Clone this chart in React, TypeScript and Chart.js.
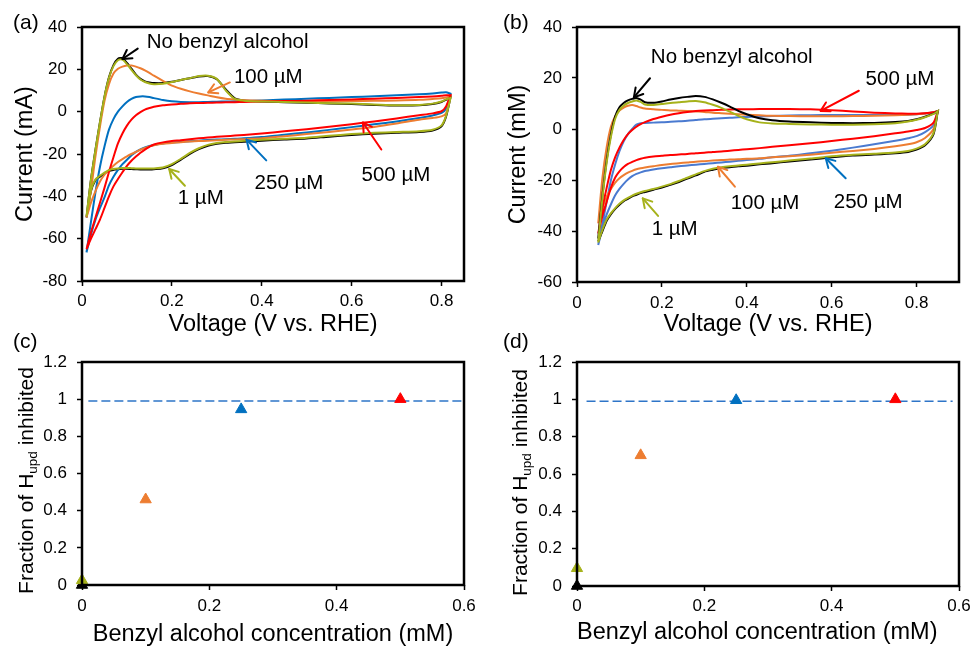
import React, { useEffect, useRef } from "react";
import { Chart, registerables } from "chart.js";
Chart.register(...registerables);

const FONT = "'Liberation Sans', Arial, Helvetica, sans-serif";

const C_BLACK = "#000000";
const C_OLIVE = "#a6b21b";
const C_ORANGE = "#ed7d31";
const C_BLUE_A = "#0070c0";
const C_BLUE_B = "#4a7ad0";
const C_RED = "#ff0000";

// ---------- Panel (a): CV, current (mA) vs voltage ----------
const VOLT_A = [0.01, 0.02, 0.03, 0.04, 0.05, 0.06, 0.07, 0.08, 0.09, 0.10, 0.11, 0.12, 0.13, 0.14, 0.15, 0.16, 0.18, 0.20, 0.22, 0.24, 0.26, 0.28, 0.30, 0.32, 0.34, 0.36, 0.40, 0.45, 0.50, 0.55, 0.60, 0.65, 0.70, 0.75, 0.78, 0.80, 0.81, 0.82];
const A_NONE_FWD = [-50, -32, -18, -5, 7, 16.2, 22, 25, 25.3, 23, 20.3, 17.5, 15.5, 14.3, 13.8, 13.5, 13.5, 14.1, 15, 15.8, 16.6, 16.8, 15.3, 10.5, 6.3, 5.3, 4.8, 4.5, 4.2, 3.9, 3.6, 3.2, 2.9, 3.0, 3.6, 4.6, 5.6, 6.8];
const A_NONE_REV = [-50, -37.5, -32.4, -30.7, -29.2, -28, -27.5, -27.2, -27, -27, -27.1, -27.2, -27.3, -27.3, -27.3, -27.2, -26.8, -25.2, -22.7, -19.9, -17.7, -16.1, -15.2, -14.7, -14.5, -14.2, -13.7, -13.2, -12.7, -11.8, -11, -10.4, -10.0, -9.6, -8.9, -6.9, -2.4, 6.8];
const A_1UM_FWD = [-49.5, -32, -18, -5, 7, 16, 21.5, 24.3, 24.6, 22.5, 19.8, 17.2, 15.2, 14, 13.3, 13, 13.2, 14, 15, 15.8, 16.8, 17, 15.5, 10, 6, 5.2, 4.8, 4.6, 4.3, 4.0, 3.8, 3.4, 3.0, 3.2, 3.8, 4.8, 5.8, 6.5];
const A_1UM_REV = [-49.5, -37, -32, -30.3, -28.8, -27.6, -27.1, -26.8, -26.6, -26.6, -26.7, -26.8, -26.9, -26.9, -26.9, -26.8, -26.4, -24.8, -22.3, -19.5, -17.3, -15.7, -14.8, -14.3, -14.1, -13.8, -13.3, -12.8, -12.3, -11.4, -10.6, -10.0, -9.6, -9.2, -8.5, -6.5, -2, 6.5];
const A_100_FWD = [-50, -37, -21, -7, 5, 13, 18, 20.3, 21.3, 21.8, 21.8, 21.3, 20.5, 19.5, 18.3, 17, 14.6, 12.3, 10.8, 9.6, 8.6, 7.7, 6.8, 6.1, 5.7, 5.4, 5.1, 4.9, 4.9, 4.9, 5.0, 5.1, 5.3, 5.6, 6.0, 6.3, 6.7, 7.2];
const A_100_REV = [-50, -43, -37.5, -33, -29.8, -27.5, -25.5, -23.8, -22.4, -21.1, -20, -19, -18, -17.1, -16.4, -15.9, -15.2, -14.8, -14.4, -14.1, -13.9, -13.7, -13.5, -13.3, -13.1, -13.0, -12.6, -11.6, -10.6, -9.6, -8.4, -7.2, -5.6, -3.8, -3.0, -2.2, -0.8, 7.2];
const A_250_FWD = [-66.5, -52, -38, -26, -16.5, -8.5, -3.5, 0, 2.5, 4.6, 6, 6.9, 7.2, 7.2, 6.9, 6.4, 5.5, 4.9, 4.6, 4.5, 4.5, 4.6, 4.7, 4.8, 4.9, 5.0, 5.3, 5.7, 6.1, 6.5, 6.9, 7.3, 7.7, 8.2, 8.6, 9.0, 9.2, 8.5];
const A_250_REV = [-66.5, -58, -51, -45.5, -40.5, -34.8, -30.8, -27.5, -24.8, -22.7, -20.6, -19, -17.8, -16.9, -16.2, -15.7, -15, -14.6, -14.3, -14, -13.7, -13.4, -13.2, -13.0, -12.8, -12.6, -12, -10.9, -9.8, -8.6, -7.3, -6, -4.6, -3.0, -1.8, -0.6, 1.5, 8.5];
const A_500_FWD = [-65, -57, -50, -43, -36, -28.5, -21.5, -15, -10.3, -6.6, -3.8, -1.7, -0.2, 1, 1.7, 2.3, 3.0, 3.4, 3.7, 4.0, 4.1, 4.2, 4.3, 4.4, 4.5, 4.6, 4.8, 5.0, 5.2, 5.5, 5.8, 6.1, 6.5, 6.9, 7.2, 7.5, 7.7, 7.8];
const A_500_REV = [-65, -60, -55.5, -51, -45.5, -40, -35.3, -31.8, -28.6, -25.6, -23.2, -21.2, -19.4, -17.9, -16.6, -15.5, -14.5, -13.9, -13.5, -13.0, -12.6, -12.2, -11.9, -11.6, -11.3, -11.0, -10.3, -9.3, -8.3, -7.1, -5.9, -4.6, -3.2, -1.7, -0.8, 0.2, 2.5, 7.8];

// ---------- Panel (b): CV, current (mM) vs voltage ----------
const VOLT_B = [0.05, 0.06, 0.07, 0.08, 0.09, 0.10, 0.11, 0.12, 0.13, 0.14, 0.15, 0.16, 0.18, 0.20, 0.22, 0.24, 0.26, 0.28, 0.30, 0.32, 0.34, 0.36, 0.38, 0.40, 0.43, 0.46, 0.50, 0.55, 0.60, 0.65, 0.70, 0.75, 0.78, 0.80, 0.82, 0.84, 0.85];
const B_NONE_FWD = [-43, -26, -12, -2, 5, 8.5, 10.2, 11.2, 11.8, 12.2, 11.5, 10.5, 10.3, 10.8, 11.6, 12.2, 12.6, 12.9, 12.6, 11.6, 10.3, 8.8, 7.1, 5.8, 4.2, 3.4, 2.9, 2.6, 2.4, 2.3, 2.4, 2.7, 3.1, 3.8, 4.8, 6.0, 7.0];
const B_NONE_REV = [-44, -40, -36, -33.4, -31.3, -29.7, -28.3, -27.4, -26.4, -25.8, -25.1, -24.7, -23.8, -23.0, -21.9, -20.8, -19.4, -18.2, -16.8, -16.0, -15.3, -15.0, -14.6, -14.4, -13.8, -13.4, -12.7, -12.0, -11.1, -10.4, -10.0, -9.5, -9.0, -8.1, -6.4, -2.0, 7.0];
const B_1UM_FWD = [-44.5, -27, -13, -3, 4, 7.5, 9.2, 10.2, 10.8, 11.2, 10.6, 9.6, 9.4, 9.8, 10.2, 10.5, 10.8, 11.0, 10.5, 9.5, 8.3, 6.8, 5.2, 3.8, 2.6, 2.2, 2.0, 1.8, 1.7, 1.7, 1.9, 2.3, 2.9, 3.6, 4.6, 5.9, 7.0];
const B_1UM_REV = [-44.5, -39.5, -35.5, -33, -31, -29.3, -28, -27, -26.1, -25.4, -24.8, -24.3, -23.5, -22.6, -21.6, -20.4, -19.1, -17.8, -16.5, -15.6, -15, -14.6, -14.3, -14, -13.5, -13.0, -12.4, -11.6, -10.7, -10.1, -9.7, -9.2, -8.6, -7.7, -6, -1.5, 7.0];
const B_100_FWD = [-37, -19, -7, 1, 5, 7.2, 8.4, 9.1, 9.4, 9.0, 8.4, 8.0, 7.7, 7.5, 7.3, 7.2, 7.1, 6.9, 6.7, 6.4, 6.2, 6.0, 5.8, 5.6, 5.4, 5.2, 5.1, 5.0, 5.0, 5.1, 5.2, 5.4, 5.6, 5.8, 6.1, 6.6, 7.0];
const B_100_REV = [-37, -31, -26.5, -23.5, -21, -19.3, -18.1, -17.1, -16.4, -15.8, -15.4, -15.1, -14.6, -14.1, -13.7, -13.4, -13.1, -12.8, -12.6, -12.4, -12.2, -12, -11.9, -11.7, -11.5, -11.1, -10.7, -10.1, -9.3, -8.6, -7.8, -6.8, -6.0, -5.2, -3.5, 0, 7.0];
const B_250_FWD = [-45.5, -37, -28.5, -20, -13.8, -8.7, -4.8, -2, 0, 1.7, 2.3, 2.4, 2.5, 2.6, 2.8, 3.0, 3.2, 3.5, 3.8, 4.0, 4.2, 4.4, 4.6, 4.7, 4.9, 5.1, 5.3, 5.4, 5.5, 5.5, 5.5, 5.5, 5.6, 5.8, 6.1, 6.6, 7.0];
const B_250_REV = [-45.5, -39, -33.5, -29.5, -26, -23.5, -21.5, -19.8, -18.5, -17.6, -17, -16.5, -15.9, -15.4, -15, -14.6, -14.3, -14, -13.7, -13.4, -13.1, -12.8, -12.5, -12.2, -11.7, -11.1, -10.5, -9.5, -8.5, -7.3, -6.0, -4.6, -3.6, -2.8, -1.2, 1.5, 7.0];
const B_500_FWD = [-41, -31, -23, -16, -11, -7.3, -4.3, -2, -0.4, 0.9, 1.9, 2.7, 3.9, 4.8, 5.6, 6.2, 6.7, 7.1, 7.3, 7.4, 7.5, 7.6, 7.7, 7.7, 7.8, 7.8, 7.8, 7.7, 7.4, 6.9, 6.4, 6.1, 6.0, 6.0, 6.2, 6.6, 7.0];
const B_500_REV = [-41, -34, -28.5, -23, -19, -16.6, -14.9, -13.7, -12.9, -12.2, -11.7, -11.3, -10.8, -10.5, -10.2, -10.0, -9.8, -9.5, -9.3, -9.0, -8.8, -8.5, -8.2, -7.9, -7.5, -7.0, -6.4, -5.6, -4.7, -3.8, -2.8, -1.7, -1.0, -0.4, 0.4, 2.5, 7.0];

// ---------- Panels (c), (d): fraction inhibited ----------
const CONC = [0, 0, 0.1, 0.25, 0.5];
const CONC_COLORS = [C_BLACK, C_OLIVE, C_ORANGE, C_BLUE_A, C_RED];
const FRACTION_C = [0, 0.025, 0.46, 0.945, 1.0];
const FRACTION_D = [0, 0.095, 0.70, 0.995, 1.0];
const REF_LINE_C_X = [0.01, 0.6];
const REF_LINE_D_X = [0.015, 0.59];
const REF_LINE_Y = [0.99, 0.99];

// ---------- Axis ticks ----------
const TICKS_VOLT = [0, 0.2, 0.4, 0.6, 0.8];
const TICKS_CUR_A = [-80, -60, -40, -20, 0, 20, 40];
const TICKS_CUR_B = [-60, -40, -20, 0, 20, 40];
const TICKS_CONC = [0, 0.2, 0.4, 0.6];
const TICKS_FRAC = [0, 0.2, 0.4, 0.6, 0.8, 1, 1.2];

type Note = { text: string; color: string; x: number; y: number; from: [number, number]; to: [number, number] };

const NOTES_A: Note[] = [
  { text: "No benzyl alcohol", color: C_BLACK, x: 0.144, y: 32.6, from: [0.124, 29.8], to: [0.09, 24.9] },
  { text: "100 µM", color: C_ORANGE, x: 0.338, y: 16.1, from: [0.329, 13.8], to: [0.281, 9.1] },
  { text: "1 µM", color: C_OLIVE, x: 0.213, y: -41.1, from: [0.229, -35], to: [0.194, -27.1] },
  { text: "250 µM", color: C_BLUE_A, x: 0.384, y: -33.9, from: [0.41, -23], to: [0.366, -13.2] },
  { text: "500 µM", color: C_RED, x: 0.622, y: -30.2, from: [0.666, -17.9], to: [0.625, -5.1] },
];
const NOTES_B: Note[] = [
  { text: "No benzyl alcohol", color: C_BLACK, x: 0.174, y: 28, from: [0.172, 19.9], to: [0.134, 12.4] },
  { text: "500 µM", color: C_RED, x: 0.68, y: 19.5, from: [0.664, 15], to: [0.574, 7.1] },
  { text: "100 µM", color: C_ORANGE, x: 0.362, y: -29.3, from: [0.372, -22.6], to: [0.332, -14.8] },
  { text: "250 µM", color: C_BLUE_A, x: 0.605, y: -28.6, from: [0.633, -19.3], to: [0.586, -11.5] },
  { text: "1 µM", color: C_OLIVE, x: 0.176, y: -39.2, from: [0.191, -34.1], to: [0.155, -27.2] },
];

function loop(v: number[], fwd: number[], rev: number[]) {
  const up = v.map((x, i) => ({ x, y: fwd[i] }));
  const down = v.map((x, i) => ({ x, y: rev[i] })).reverse();
  return [...up, ...down];
}

function cv(label: string, color: string, v: number[], fwd: number[], rev: number[], order: number) {
  return {
    label,
    data: loop(v, fwd, rev),
    showLine: true,
    borderColor: color,
    backgroundColor: color,
    borderWidth: 2,
    pointRadius: 0,
    tension: 0.25,
    fill: false,
    order,
  };
}

function fractionSets(values: number[], lineX: number[]) {
  return [
    {
      label: "fraction",
      data: CONC.map((x, i) => ({ x, y: values[i] })),
      pointStyle: "triangle",
      pointRadius: 6.5,
      pointBorderWidth: 1,
      pointBackgroundColor: CONC_COLORS,
      pointBorderColor: CONC_COLORS,
      showLine: false,
      clip: false,
      order: 0,
    },
    {
      label: "full inhibition",
      data: lineX.map((x, i) => ({ x, y: REF_LINE_Y[i] })),
      showLine: true,
      borderColor: "#2e75c8",
      borderWidth: 1.5,
      borderDash: [9, 4],
      pointRadius: 0,
      order: 1,
    },
  ];
}

type Spec = {
  left: number; top: number; width: number; height: number;
  plot: { left: number; top: number; right: number; bottom: number };
  xMin: number; xMax: number; xTicks: number[]; xTitle: string; xTitlePad: number; xTitleAlign?: string; xLabelPad: number;
  yMin: number; yMax: number; yTicks: number[]; yTitle?: string; yTitlePad?: number;
  datasets: any[];
  label: string; labelPos: [number, number];
  notes?: Note[];
  subTitle?: { x: number; y: number };
};

function drawArrow(ctx: CanvasRenderingContext2D, x1: number, y1: number, x2: number, y2: number, color: string) {
  ctx.strokeStyle = color;
  ctx.lineWidth = 2;
  ctx.lineCap = "round";
  ctx.lineJoin = "round";
  ctx.beginPath();
  ctx.moveTo(x1, y1);
  ctx.lineTo(x2, y2);
  ctx.stroke();
  const ang = Math.atan2(y2 - y1, x2 - x1);
  const L = 10;
  const a = Math.PI / 6;
  ctx.beginPath();
  ctx.moveTo(x2 - L * Math.cos(ang - a), y2 - L * Math.sin(ang - a));
  ctx.lineTo(x2, y2);
  ctx.lineTo(x2 - L * Math.cos(ang + a), y2 - L * Math.sin(ang + a));
  ctx.stroke();
}

function overlay(spec: Spec) {
  return {
    id: "overlay",
    afterDatasetsDraw(chart: any) {
      const { ctx, chartArea: a } = chart;
      ctx.save();
      ctx.strokeStyle = "#000";
      ctx.lineWidth = 2.5;
      ctx.strokeRect(a.left, a.top, a.right - a.left, a.bottom - a.top);
      ctx.restore();
    },
    afterDraw(chart: any) {
      const ctx: CanvasRenderingContext2D = chart.ctx;
      const xs = chart.scales.x;
      const ys = chart.scales.y;
      ctx.save();
      ctx.fillStyle = "#000";
      ctx.textAlign = "left";
      ctx.textBaseline = "middle";
      ctx.font = `21px ${FONT}`;
      ctx.fillText(spec.label, spec.labelPos[0], spec.labelPos[1]);
      for (const n of spec.notes ?? []) {
        ctx.font = `20.5px ${FONT}`;
        ctx.fillStyle = "#000";
        ctx.textBaseline = "middle";
        ctx.fillText(n.text, xs.getPixelForValue(n.x), ys.getPixelForValue(n.y));
        drawArrow(
          ctx,
          xs.getPixelForValue(n.from[0]), ys.getPixelForValue(n.from[1]),
          xs.getPixelForValue(n.to[0]), ys.getPixelForValue(n.to[1]),
          n.color
        );
      }
      if (spec.subTitle) {
        const parts: [string, number, number][] = [
          ["Fraction of H", 21, 0],
          ["upd", 13.5, 4],
          [" inhibited", 21, 0],
        ];
        ctx.translate(spec.subTitle.x, spec.subTitle.y);
        ctx.rotate(-Math.PI / 2);
        ctx.textBaseline = "alphabetic";
        ctx.fillStyle = "#000";
        const widths = parts.map(([t, s]) => {
          ctx.font = `${s}px ${FONT}`;
          return ctx.measureText(t).width;
        });
        const total = widths.reduce((p, c) => p + c, 0);
        let x = -total / 2;
        parts.forEach(([t, s, dy], i) => {
          ctx.font = `${s}px ${FONT}`;
          ctx.fillText(t, x, dy);
          x += widths[i];
        });
      }
      ctx.restore();
    },
  };
}

function buildConfig(spec: Spec): any {
  const tickFont = { family: FONT, size: 17 };
  const titleFont = { family: FONT, size: 23.5, lineHeight: 1 };
  return {
    type: "scatter",
    data: { datasets: spec.datasets },
    plugins: [overlay(spec)],
    options: {
      responsive: false,
      animation: false,
      events: [],
      layout: { padding: { left: 0, top: spec.plot.top, right: spec.width - spec.plot.right, bottom: 0 } },
      plugins: { legend: { display: false }, tooltip: { enabled: false } },
      scales: {
        x: {
          type: "linear",
          position: "bottom",
          min: spec.xMin,
          max: spec.xMax,
          afterBuildTicks: (s: any) => { s.ticks = spec.xTicks.map((v) => ({ value: v })); },
          afterFit: (s: any) => { s.height = spec.height - spec.plot.bottom; s.paddingLeft = 0; s.paddingRight = 0; },
          ticks: { autoSkip: false, maxRotation: 0, minRotation: 0, color: "#000", font: tickFont, padding: spec.xLabelPad, callback: (v: number) => String(v) },
          grid: { drawOnChartArea: false, drawTicks: true, tickLength: 5, tickColor: "#000", tickWidth: 1.5 },
          border: { display: false },
          title: { display: true, text: spec.xTitle, color: "#000", font: titleFont, align: spec.xTitleAlign ?? "center", padding: { top: 0, bottom: spec.xTitlePad } },
        },
        y: {
          type: "linear",
          position: "left",
          min: spec.yMin,
          max: spec.yMax,
          afterBuildTicks: (s: any) => { s.ticks = spec.yTicks.map((v) => ({ value: v })); },
          afterFit: (s: any) => { s.width = spec.plot.left; s.paddingTop = 0; s.paddingBottom = 0; },
          ticks: { autoSkip: false, color: "#000", font: tickFont, padding: 10, callback: (v: number) => String(v) },
          grid: { drawOnChartArea: false, drawTicks: true, tickLength: 5, tickColor: "#000", tickWidth: 1.5 },
          border: { display: false },
          title: { display: !!spec.yTitle, text: spec.yTitle ?? "", color: "#000", font: titleFont, padding: { top: spec.yTitlePad ?? 0, bottom: 0 } },
        },
      },
    },
  };
}

const SPECS: Spec[] = [
  {
    left: 0, top: 0, width: 485, height: 340,
    plot: { left: 82, top: 27, right: 464, bottom: 281 },
    xMin: 0, xMax: 0.85, xTicks: TICKS_VOLT, xTitle: "Voltage (V vs. RHE)", xTitlePad: 3.3, xLabelPad: 5.5,
    yMin: -80, yMax: 40, yTicks: TICKS_CUR_A, yTitle: "Current (mA)", yTitlePad: 13.4,
    datasets: [
      cv("1 µM", C_OLIVE, VOLT_A, A_1UM_FWD, A_1UM_REV, 0),
      cv("500 µM", C_RED, VOLT_A, A_500_FWD, A_500_REV, 1),
      cv("100 µM", C_ORANGE, VOLT_A, A_100_FWD, A_100_REV, 2),
      cv("250 µM", C_BLUE_A, VOLT_A, A_250_FWD, A_250_REV, 3),
      cv("No benzyl alcohol", C_BLACK, VOLT_A, A_NONE_FWD, A_NONE_REV, 4),
    ],
    label: "(a)", labelPos: [13, 23],
    notes: NOTES_A,
  },
  {
    left: 485, top: 0, width: 486, height: 340,
    plot: { left: 92, top: 27, right: 474, bottom: 282 },
    xMin: 0, xMax: 0.9, xTicks: TICKS_VOLT, xTitle: "Voltage (V vs. RHE)", xTitlePad: 3.3, xLabelPad: 6,
    yMin: -60, yMax: 40, yTicks: TICKS_CUR_B, yTitle: "Current (mM)", yTitlePad: 21.9,
    datasets: [
      cv("1 µM", C_OLIVE, VOLT_B, B_1UM_FWD, B_1UM_REV, 0),
      cv("No benzyl alcohol", C_BLACK, VOLT_B, B_NONE_FWD, B_NONE_REV, 1),
      cv("500 µM", C_RED, VOLT_B, B_500_FWD, B_500_REV, 2),
      cv("100 µM", C_ORANGE, VOLT_B, B_100_FWD, B_100_REV, 3),
      cv("250 µM", C_BLUE_B, VOLT_B, B_250_FWD, B_250_REV, 4),
    ],
    label: "(b)", labelPos: [18, 23],
    notes: NOTES_B,
  },
  {
    left: 0, top: 330, width: 485, height: 317,
    plot: { left: 82, top: 32, right: 464, bottom: 255 },
    xMin: 0, xMax: 0.6, xTicks: TICKS_CONC, xTitle: "Benzyl alcohol concentration (mM)", xTitlePad: 0.7, xLabelPad: 6.5,
    yMin: 0, yMax: 1.2, yTicks: TICKS_FRAC,
    datasets: fractionSets(FRACTION_C, REF_LINE_C_X),
    label: "(c)", labelPos: [13, 12.5],
    subTitle: { x: 33, y: 150.5 },
  },
  {
    left: 485, top: 330, width: 486, height: 317,
    plot: { left: 92, top: 32, right: 474, bottom: 256 },
    xMin: 0, xMax: 0.6, xTicks: TICKS_CONC, xTitle: "Benzyl alcohol concentration (mM)", xTitlePad: 2.7, xTitleAlign: "start", xLabelPad: 5.5,
    yMin: 0, yMax: 1.2, yTicks: TICKS_FRAC,
    datasets: fractionSets(FRACTION_D, REF_LINE_D_X),
    label: "(d)", labelPos: [18, 12.5],
    subTitle: { x: 41.7, y: 152.5 },
  },
];

function Panel({ spec }: { spec: Spec }) {
  const ref = useRef<HTMLCanvasElement>(null);
  useEffect(() => {
    if (!ref.current) return;
    const chart = new Chart(ref.current, buildConfig(spec));
    return () => chart.destroy();
  }, [spec]);
  return (
    <canvas
      ref={ref}
      width={spec.width}
      height={spec.height}
      style={{ position: "absolute", left: spec.left, top: spec.top, width: spec.width, height: spec.height }}
    />
  );
}

export default function App() {
  return (
    <div style={{ position: "fixed", left: 0, top: 0, width: 971, height: 647, background: "#fff", overflow: "hidden" }}>
      {SPECS.map((s) => (
        <Panel key={s.label} spec={s} />
      ))}
    </div>
  );
}
